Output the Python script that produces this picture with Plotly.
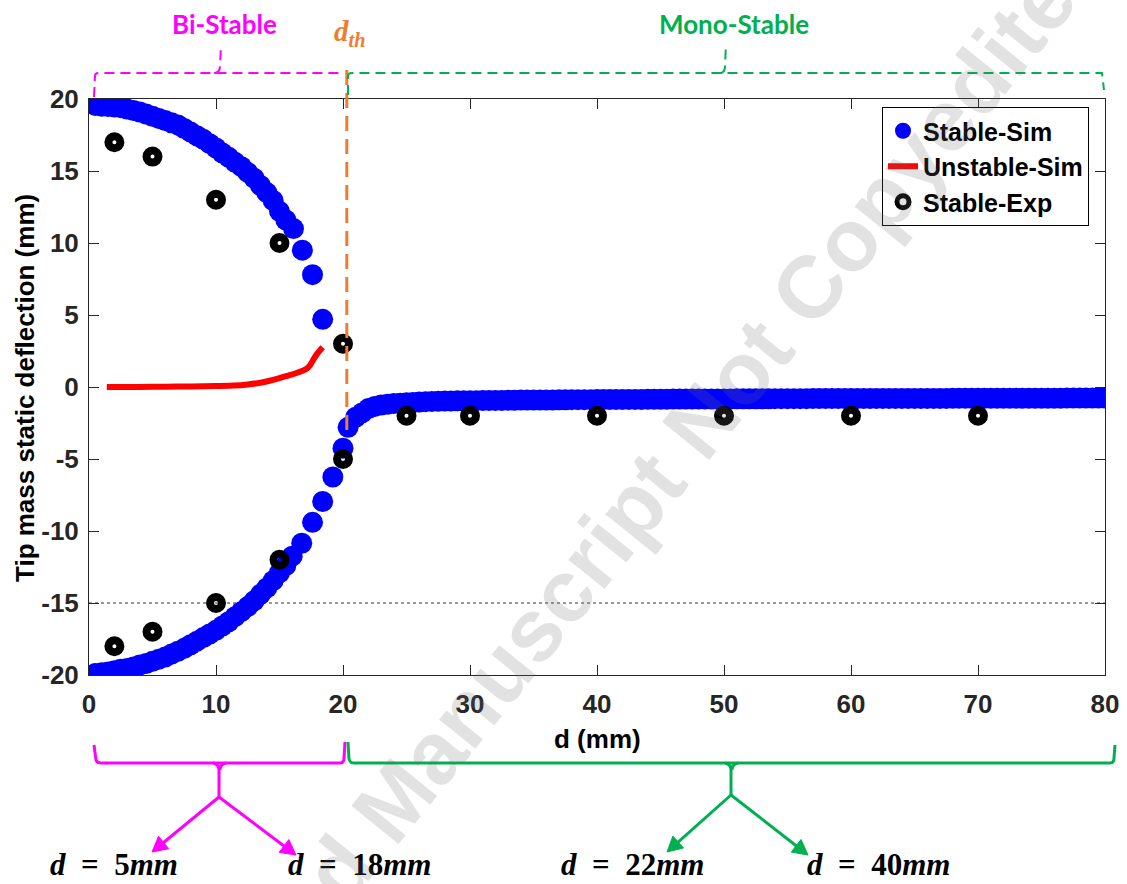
import math
import plotly.graph_objects as go

# ---- simulated stable equilibria (upper bistable branch) ----
UPPER_D = [0.5, 1.0, 1.5, 2.0, 2.5, 3.0, 3.5, 4.0, 4.5, 5.0, 5.5, 6.0, 6.5, 7.0, 7.5,
           8.0, 8.5, 9.0, 9.5, 10.0, 10.5, 11.0, 11.5, 12.0, 12.5, 13.0, 13.5, 14.0,
           14.5, 15.0, 15.5, 16.1, 16.8, 17.6, 18.4]
UPPER_Y = [19.55, 19.5, 19.48, 19.45, 19.4, 19.3, 19.2, 19.1, 18.95, 18.8, 18.65, 18.5,
           18.35, 18.2, 17.95, 17.7, 17.45, 17.2, 16.9, 16.6, 16.25, 15.95, 15.6, 15.3,
           14.9, 14.5, 14.0, 13.5, 12.95, 12.2, 11.6, 11.0, 9.5, 7.8, 4.7]

# ---- simulated stable equilibria (lower branch, continuing into mono-stable) ----
LOWER_D = [0.5, 1.0, 1.5, 2.0, 2.5, 3.0, 3.5, 4.0, 4.5, 5.0, 5.5, 6.0, 6.5, 7.0, 7.5,
           8.0, 8.5, 9.0, 9.5, 10.0, 10.5, 11.0, 11.5, 12.0, 12.5, 13.0, 13.5, 14.0,
           14.5, 15.0, 15.5, 16.0, 16.75, 17.6, 18.4, 19.2, 20.0, 20.4, 21.0, 21.5,
           22.0, 22.5, 23.0, 23.5]
LOWER_Y = [-19.9, -19.85, -19.8, -19.7, -19.6, -19.55, -19.45, -19.3, -19.2, -19.05,
           -18.9, -18.75, -18.55, -18.35, -18.15, -17.9, -17.65, -17.4, -17.15, -16.9,
           -16.6, -16.3, -15.95, -15.6, -15.25, -14.85, -14.4, -13.95, -13.45, -12.9,
           -12.4, -11.75, -10.85, -9.4, -7.95, -6.25, -4.25, -2.8, -2.1, -1.8, -1.5,
           -1.35, -1.25, -1.2]

MONO_D = [24, 24.5, 25, 25.5, 26, 26.5, 27, 27.5, 28, 28.5, 29, 29.5, 30, 30.5, 31, 31.5,
          32, 32.5, 33, 33.5, 34, 34.5, 35, 35.5, 36, 36.5, 37, 37.5, 38, 38.5, 39, 39.5,
          40, 40.5, 41, 41.5, 42, 42.5, 43, 43.5, 44, 44.5, 45, 45.5, 46, 46.5, 47, 47.5,
          48, 48.5, 49, 49.5, 50, 50.5, 51, 51.5, 52, 52.5, 53, 53.5, 54, 54.5, 55, 55.5,
          56, 56.5, 57, 57.5, 58, 58.5, 59, 59.5, 60, 60.5, 61, 61.5, 62, 62.5, 63, 63.5,
          64, 64.5, 65, 65.5, 66, 66.5, 67, 67.5, 68, 68.5, 69, 69.5, 70, 70.5, 71, 71.5,
          72, 72.5, 73, 73.5, 74, 74.5, 75, 75.5, 76, 76.5, 77, 77.5, 78, 78.5, 79, 79.5, 80]
MONO_Y = [-1.15, -1.12, -1.1, -1.08, -1.05, -1.02, -1.0, -0.99, -0.98, -0.97, -0.96,
          -0.96, -0.95, -0.95, -0.94, -0.94, -0.93, -0.93, -0.92, -0.92, -0.91, -0.91,
          -0.9, -0.9, -0.9, -0.9, -0.89, -0.89, -0.88, -0.88, -0.88, -0.88, -0.87, -0.87,
          -0.87, -0.87, -0.86, -0.86, -0.86, -0.86, -0.85, -0.85, -0.85, -0.85, -0.84,
          -0.84, -0.84, -0.84, -0.83, -0.83, -0.83, -0.83, -0.83, -0.83, -0.82, -0.82,
          -0.82, -0.82, -0.82, -0.82, -0.81, -0.81, -0.81, -0.81, -0.81, -0.81, -0.8,
          -0.8, -0.8, -0.8, -0.8, -0.8, -0.8, -0.8, -0.8, -0.8, -0.79, -0.79, -0.79,
          -0.79, -0.79, -0.79, -0.79, -0.79, -0.79, -0.79, -0.79, -0.79, -0.78, -0.78,
          -0.78, -0.78, -0.78, -0.78, -0.78, -0.78, -0.78, -0.78, -0.78, -0.78, -0.78,
          -0.78, -0.78, -0.78, -0.78, -0.78, -0.77, -0.77, -0.77, -0.77, -0.77, -0.77,
          -0.77]

# ---- simulated unstable equilibrium ----
UNSTABLE_D = [1.4, 2.5, 4.0, 6.0, 8.0, 10.0, 11.4, 12.5, 13.5, 14.3, 15.0, 15.8, 16.5,
              17.1, 17.4, 17.7, 18.0, 18.4]
UNSTABLE_Y = [0.0, 0.0, 0.0, 0.02, 0.04, 0.07, 0.1, 0.18, 0.3, 0.45, 0.62, 0.82, 1.02,
              1.25, 1.5, 1.95, 2.35, 2.76]

# ---- experimental stable positions ----
EXP_D = [2, 5, 10, 15, 20, 2, 5, 10, 15, 20, 25, 30, 40, 50, 60, 70]
EXP_Y = [17, 16, 13, 10, 3, -18, -17, -15, -12, -5, -2, -2, -2, -2, -2, -2]

X_TICKS = [0, 10, 20, 30, 40, 50, 60, 70, 80]
Y_TICKS = [-20, -15, -10, -5, 0, 5, 10, 15, 20]
Y_TICKTEXT = ["-20", "-15", "-10", "-5", "0", "5", "10", "15", "20"]
D_TH = 20.3          # threshold distance (mm)
REGION_LABELS = ["Bi-Stable", "Mono-Stable"]
CASE_LABELS = ["5", "18", "22", "40"]

# canvas geometry (pixels)
WIDTH, HEIGHT = 1127, 884
L, R, T, B = 89, 1105, 99, 675
PW, PH = R - L, B - T


def px(xp):
    return (xp - L) / PW


def py(yp):
    return (B - yp) / PH


MAGENTA = "#FF00FF"
GREEN = "#00B050"
ORANGE = "#ED7D31"
AXCOL = "#262626"
SANS = "Liberation Sans"
SERIF = "Liberation Serif"
BRACE_DASH = "10px,6px"

fig = go.Figure()

fig.add_trace(go.Scatter(
    x=UPPER_D + LOWER_D + MONO_D, y=UPPER_Y + LOWER_Y + MONO_Y,
    mode="markers", name="Stable-Sim",
    marker=dict(symbol="circle", size=21, color="#0000FF", line=dict(width=0)),
))
fig.add_trace(go.Scatter(
    x=UNSTABLE_D, y=UNSTABLE_Y, mode="lines", name="Unstable-Sim",
    line=dict(color="#FF0000", width=6, shape="spline", smoothing=0.6),
))
fig.add_trace(go.Scatter(
    x=EXP_D, y=EXP_Y, mode="markers", name="Stable-Exp",
    marker=dict(symbol="circle-open", size=12, color="#000000",
                line=dict(width=8, color="#000000")),
))

shapes = []
# dotted reference line at -15 mm
shapes.append(dict(type="line", xref="paper", yref="y", x0=0, x1=1, y0=-15, y1=-15,
                   line=dict(color="#333333", width=1, dash="dot"), layer="below"))
# threshold line
shapes.append(dict(type="line", xref="paper", yref="paper",
                   x0=D_TH / 80, x1=D_TH / 80, y0=py(70), y1=py(432),
                   line=dict(color=ORANGE, width=3, dash="15px,8px"), layer="above"))

# top dashed braces
shapes.append(dict(type="path", xref="paper", yref="paper",
                   path=f"M {px(94)},{py(97)} L {px(95)},{py(76)} Q {px(95)},{py(73)} {px(99)},{py(73)} "
                        f"L {px(344)},{py(73)}",
                   line=dict(color=MAGENTA, width=2, dash=BRACE_DASH)))
shapes.append(dict(type="path", xref="paper", yref="paper",
                   path=f"M {px(214)},{py(73)} Q {px(220)},{py(73)} {px(220)},{py(66)} L {px(221)},{py(45)}",
                   line=dict(color=MAGENTA, width=2, dash=BRACE_DASH)))
shapes.append(dict(type="path", xref="paper", yref="paper",
                   path=f"M {px(348)},{py(95)} L {px(348)},{py(76)} Q {px(348)},{py(73)} {px(352)},{py(73)} "
                        f"L {px(1102)},{py(73)} L {px(1104)},{py(90)}",
                   line=dict(color=GREEN, width=2, dash=BRACE_DASH)))
shapes.append(dict(type="path", xref="paper", yref="paper",
                   path=f"M {px(720)},{py(73)} Q {px(725)},{py(73)} {px(725)},{py(66)} L {px(726)},{py(44)}",
                   line=dict(color=GREEN, width=2, dash=BRACE_DASH)))

# bottom solid braces
shapes.append(dict(type="path", xref="paper", yref="paper",
                   path=f"M {px(94)},{py(745)} L {px(96)},{py(760)} Q {px(97)},{py(763)} {px(101)},{py(763)} "
                        f"L {px(340)},{py(763)} Q {px(344)},{py(763)} {px(344)},{py(758)} L {px(345)},{py(742)}",
                   line=dict(color=MAGENTA, width=3)))
shapes.append(dict(type="path", xref="paper", yref="paper",
                   path=f"M {px(213)},{py(763)} Q {px(219)},{py(764)} {px(219)},{py(770)} L {px(219)},{py(797)} "
                        f"M {px(226)},{py(763)} Q {px(220)},{py(764)} {px(220)},{py(770)}",
                   line=dict(color=MAGENTA, width=3)))
shapes.append(dict(type="path", xref="paper", yref="paper",
                   path=f"M {px(348)},{py(742)} L {px(349)},{py(759)} Q {px(350)},{py(763)} {px(354)},{py(763)} "
                        f"L {px(1110)},{py(763)} Q {px(1114)},{py(763)} {px(1114)},{py(758)} L {px(1115)},{py(745)}",
                   line=dict(color=GREEN, width=3)))
shapes.append(dict(type="path", xref="paper", yref="paper",
                   path=f"M {px(725)},{py(763)} Q {px(731)},{py(764)} {px(731)},{py(770)} L {px(731)},{py(795)} "
                        f"M {px(738)},{py(763)} Q {px(732)},{py(764)} {px(732)},{py(770)}",
                   line=dict(color=GREEN, width=3)))


def arrow(x0, y0, x1, y1, color):
    """Straight arrow drawn as a shaft plus a filled head, in pixel space."""
    dx, dy = x1 - x0, y1 - y0
    n = math.hypot(dx, dy)
    ux, uy = dx / n, dy / n
    hl, hw = 15, 8
    bx, by = x1 - ux * hl, y1 - uy * hl
    shapes.append(dict(type="line", xref="paper", yref="paper",
                       x0=px(x0), y0=py(y0), x1=px(bx + ux * 2), y1=py(by + uy * 2),
                       line=dict(color=color, width=3)))
    lx, ly = bx - uy * hw, by + ux * hw
    rx, ry = bx + uy * hw, by - ux * hw
    shapes.append(dict(type="path", xref="paper", yref="paper",
                       path=f"M {px(x1)},{py(y1)} L {px(lx)},{py(ly)} L {px(rx)},{py(ry)} Z",
                       fillcolor=color, line=dict(color=color, width=1)))


arrow(219, 797, 152, 852, MAGENTA)
arrow(219, 797, 296, 855, MAGENTA)
arrow(731, 795, 667, 852, GREEN)
arrow(731, 795, 808, 855, GREEN)

annotations = []


def label(xp, yp, text, font, angle=0):
    annotations.append(dict(xref="paper", yref="paper", x=px(xp), y=py(yp),
                            xanchor="center", yanchor="middle", text=text,
                            textangle=angle, showarrow=False, font=font))


# region labels
label(224, 24, f"<b>{REGION_LABELS[0]}</b>", dict(family="Lato", size=26, color=MAGENTA))
label(734, 24, f"<b>{REGION_LABELS[1]}</b>", dict(family="Lato", size=26, color=GREEN))
label(349, 33, "<b><i>d</i><sub><i>th</i></sub></b>", dict(family=SERIF, size=29, color=ORANGE))

# case labels under the braces
for cx, val in zip([114, 359, 632, 878], CASE_LABELS):
    label(cx, 864, f"<b><i>d</i>&nbsp;&nbsp;=&nbsp;&nbsp;{val}<i>mm</i></b>",
          dict(family=SERIF, size=31, color="#000000"))

# axis titles
label(597, 739, "<b>d (mm)</b>", dict(family=SANS, size=26, color="#000000"))
label(25, 388, "<b>Tip mass static deflection (mm)</b>", dict(family=SANS, size=26, color="#000000"), -90)

# watermark
label(598, 548, "<b>Accepted Manuscript Not Copyedited</b>",
      dict(family=SANS, size=88, color="rgba(110,110,110,0.2)"), -51)

axis_common = dict(
    showgrid=False, zeroline=False, showline=True, linecolor=AXCOL, linewidth=1,
    mirror="ticks", ticks="inside", ticklen=10, tickwidth=1, tickcolor=AXCOL,
    tickfont=dict(family=SANS, size=26, color=AXCOL, weight="bold"),
)

fig.update_layout(
    width=WIDTH, height=HEIGHT,
    margin=dict(l=L, r=WIDTH - R, t=T, b=HEIGHT - B, autoexpand=False),
    paper_bgcolor="white", plot_bgcolor="white",
    xaxis=dict(range=[0, 80], tickvals=X_TICKS, ticklabelstandoff=6, **axis_common),
    yaxis=dict(range=[-20, 20], tickvals=Y_TICKS, ticktext=Y_TICKTEXT,
               ticklabelstandoff=4, **axis_common),
    legend=dict(x=px(882), y=py(107), xanchor="left", yanchor="top",
                bgcolor="white", bordercolor="#000000", borderwidth=1,
                font=dict(family=SANS, size=25, color="#000000", weight="bold"),
                itemwidth=30, tracegroupgap=0),
    shapes=shapes, annotations=annotations,
    showlegend=True,
)

fig.write_html("out.html")
